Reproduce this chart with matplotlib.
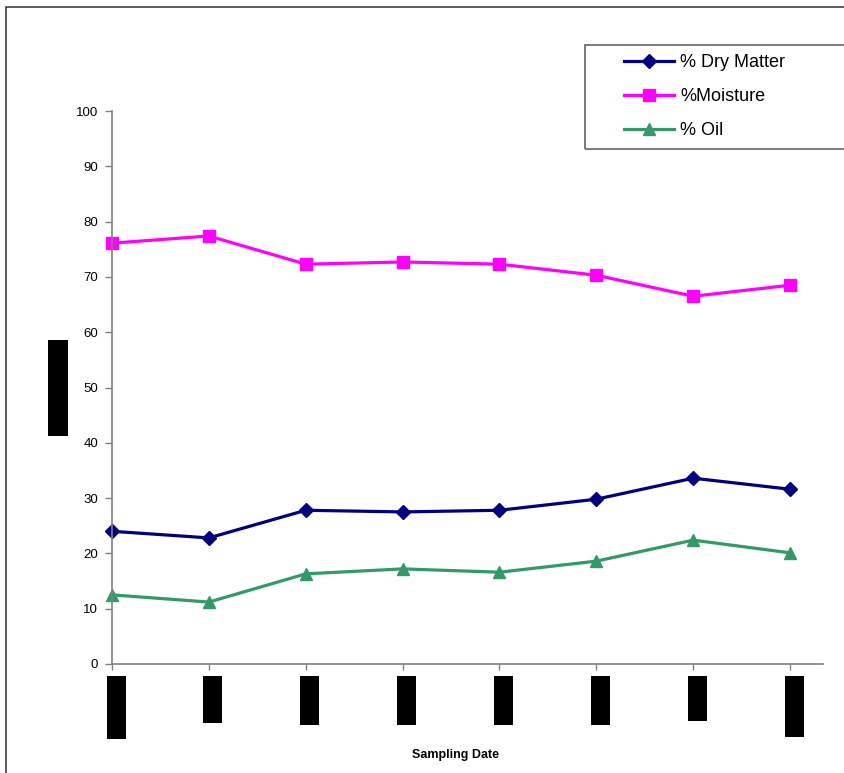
import matplotlib
import matplotlib.pyplot as plt
from matplotlib.patches import Rectangle

matplotlib.use('Agg')
plt.rcParams['font.family'] = ['Liberation Sans', 'DejaVu Sans']

# values
sample_idx = [0, 1, 2, 3, 4, 5, 6, 7]
dry_matter = [24.0, 22.8, 27.8, 27.5, 27.8, 29.8, 33.6, 31.6]
moisture = [76.1, 77.4, 72.3, 72.7, 72.3, 70.3, 66.5, 68.5]
oil = [12.5, 11.2, 16.3, 17.2, 16.6, 18.6, 22.4, 20.1]
yticks = [0, 10, 20, 30, 40, 50, 60, 70, 80, 90, 100]
# date labels are blacked out in the reference; lengths of the boxes in px
label_box_len = [63, 47, 49, 49, 49, 49, 45, 61]

W, H = 844, 773
fig = plt.figure(figsize=(W / 100, H / 100), dpi=100)


def px(x, y):
    return x / W, 1 - y / H


# outer chart frame
fig.patches.append(Rectangle(px(6, 790), 860 / W, 783 / H, transform=fig.transFigure,
                             fill=False, edgecolor='#404040', linewidth=1.2))

ax = fig.add_axes([112 / W, 1 - 664 / H, (823 - 112) / W, (664 - 111) / H])
ax.plot(sample_idx, dry_matter, color='#000080', lw=2.3, marker='D', ms=7,
        label='% Dry Matter', clip_on=False)
ax.plot(sample_idx, moisture, color='#FF00FF', lw=2.3, marker='s', ms=8,
        label='%Moisture', clip_on=False)
ax.plot(sample_idx, oil, color='#339966', lw=2.3, marker='^', ms=8.5,
        label='% Oil', clip_on=False)

ax.set_xlim(0, 7.34)
ax.set_ylim(0, 100)
ax.set_yticks(yticks)
ax.set_xticks(sample_idx)
ax.set_xticklabels([''] * len(sample_idx))
ax.tick_params(axis='y', direction='out', length=5, width=1, color='#808080',
               labelsize=9.5, pad=5)
ax.tick_params(axis='x', direction='out', length=4, width=1, color='#808080')
for s in ['top', 'right']:
    ax.spines[s].set_visible(False)
for s in ['left', 'bottom']:
    ax.spines[s].set_color('#808080')
    ax.spines[s].set_linewidth(1.2)

# blacked-out rotated date labels
for i, n in enumerate(label_box_len):
    xd = ax.transData.transform((sample_idx[i], 0))[0]
    cx = xd + 4
    fig.patches.append(Rectangle(((cx - 9.5) / W, 1 - (676 + n) / H), 19 / W, n / H,
                                 transform=fig.transFigure, facecolor='black',
                                 edgecolor='none'))
# blacked-out y label
fig.patches.append(Rectangle(px(48, 436), 20 / W, 96 / H, transform=fig.transFigure,
                             facecolor='black', edgecolor='none'))

fig.text(456 / W, 1 - 755 / H, 'Sampling Date', ha='center', va='center',
         fontsize=9, fontweight='bold')

# legend box
fig.patches.append(Rectangle(px(585, 149), 262 / W, 104 / H, transform=fig.transFigure,
                             fill=False, edgecolor='#707070', linewidth=1.3))
fig.legend(loc='upper left', bbox_to_anchor=px(619, 49), frameon=False,
           fontsize=13, handlelength=2.75, handletextpad=0.35, labelspacing=0.93,
           borderaxespad=0, borderpad=0.3)

fig.savefig('out.png', dpi=100)
